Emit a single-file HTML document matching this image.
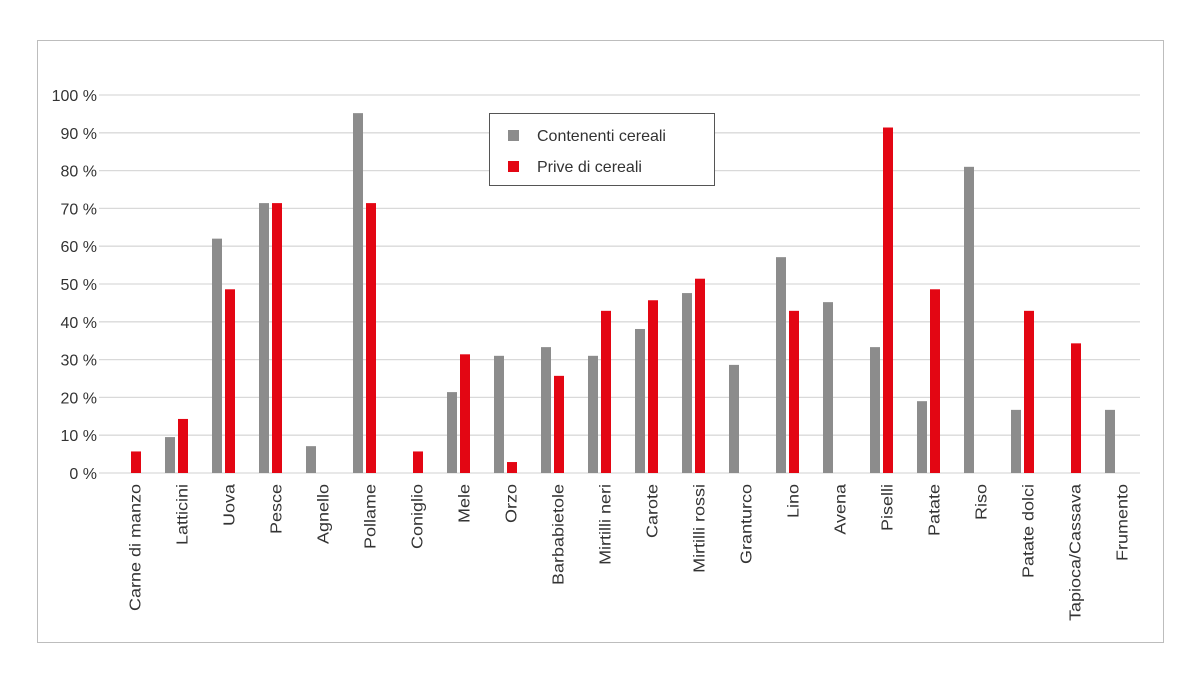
<!DOCTYPE html>
<html><head><meta charset="utf-8"><style>
html,body{margin:0;padding:0;background:#fff;}
svg text{font-family:"Liberation Sans",sans-serif;fill:#333;}
</style></head><body>
<svg width="1200" height="682" xmlns="http://www.w3.org/2000/svg">
<rect x="37.5" y="40.5" width="1126" height="602" fill="#fff" stroke="#bdbdbd"/>
<g id="grid" stroke="#d9d9d9" stroke-width="1.3"></g>
<g id="bars"></g>
<g id="ylab" font-size="16" text-anchor="end"></g>
<g id="xlab" font-size="18" text-anchor="end"></g>
<rect x="489.5" y="113.5" width="225" height="72" fill="#fff" stroke="#555"/>
<rect x="508" y="130" width="11" height="11" fill="#8c8c8c"/>
<rect x="508" y="161" width="11" height="11" fill="#e30613"/>
<text x="537" y="141" font-size="16">Contenenti cereali</text>
<text x="537" y="172" font-size="16">Prive di cereali</text>
<script>
var ns="http://www.w3.org/2000/svg";
function el(p,t,a,txt){var e=document.createElementNS(ns,t);for(var k in a)e.setAttribute(k,a[k]);if(txt)e.textContent=txt;document.getElementById(p).appendChild(e);}
var y0=473,k=3.78;
for(var i=0;i<=10;i++){var y=y0-i*10*k;el("grid","line",{x1:99,x2:1140,y1:y,y2:y});el("ylab","text",{x:97,y:y+6},(i*10)+" %");}
var d=[["Carne di manzo",0,5.7],["Latticini",9.5,14.3],["Uova",62,48.6],["Pesce",71.4,71.4],["Agnello",7.1,0],["Pollame",95.2,71.4],["Coniglio",0,5.7],["Mele",21.4,31.4],["Orzo",31,2.9],["Barbabietole",33.3,25.7],["Mirtilli neri",31,42.9],["Carote",38.1,45.7],["Mirtilli rossi",47.6,51.4],["Granturco",28.6,0],["Lino",57.1,42.9],["Avena",45.2,0],["Piselli",33.3,91.4],["Patate",19,48.6],["Riso",81,0],["Patate dolci",16.7,42.9],["Tapioca/Cassava",0,34.3],["Frumento",16.7,0]];
d.forEach(function(r,i){var g=123+47*i;
if(r[1])el("bars","rect",{x:g-5,y:y0-r[1]*k,width:10,height:r[1]*k,fill:"#8c8c8c"});
if(r[2])el("bars","rect",{x:g+8,y:y0-r[2]*k,width:10,height:r[2]*k,fill:"#e30613"});
var cx=g+7.5;el("xlab","text",{x:0,y:0,transform:"translate("+(cx+10)+",484) rotate(-90) scale(1,0.85)"},r[0]);});
</script>
</svg>
</body></html>
